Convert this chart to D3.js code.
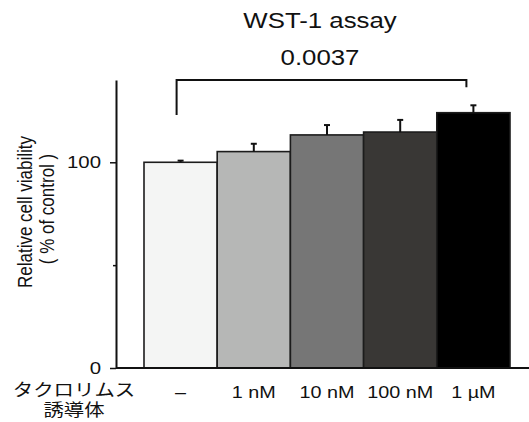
<!DOCTYPE html>
<html>
<head>
<meta charset="utf-8">
<style>
  body { margin: 0; background: #fff; }
  svg { display: block; font-family: "Liberation Sans", Arial, Helvetica, sans-serif; }
</style>
</head>
<body>
<div id="chart"></div>
<script src="https://d3js.org/d3.v7.min.js"></script>
<script>
'use strict';

var categories = ['–', '1 nM', '10 nM', '100 nM', '1 µM'];
var viability = [100, 105.2, 113.3, 114.7, 124.1];
var errors = [0.8, 3.8, 4.8, 5.9, 3.6];
var barColors = ['#f4f5f4', '#b6b7b6', '#767676', '#393735', '#000000'];
var yTickValues = [0, 50, 100];
var yTickLabels = ['0', '', '100'];
var groupLabel = ['タクロリムス', '誘導体'];
var pValue = '0.0037';

var width = 529, height = 422;
var sx = 1.2; // the source picture is stretched horizontally

var svg = d3.select('#chart').append('svg')
  .attr('width', width).attr('height', height);

var x = d3.scaleBand().domain(categories).range([144, 510]).padding(0);
var y = d3.scaleLinear().domain([0, 140]).range([368, 80]);

function label(sel, tx, ty, str, size, anchor, family) {
  return sel.append('text')
    .attr('transform', 'translate(' + tx + ',' + ty + ') scale(' + sx + ',1)')
    .attr('text-anchor', anchor || 'middle')
    .style('font-size', size + 'px')
    .style('font-family', family || null)
    .attr('fill', '#111')
    .text(str);
}

// title and p value
label(svg, 320, 28, 'WST-1 assay', 21.5);
label(svg, 320, 65, pValue, 21.5);

// bars
svg.selectAll('rect.bar').data(viability).enter().append('rect')
  .attr('class', 'bar')
  .attr('x', function(d, i) { return x(categories[i]); })
  .attr('width', x.bandwidth())
  .attr('y', function(d) { return y(d); })
  .attr('height', function(d) { return y(0) - y(d); })
  .attr('fill', function(d, i) { return barColors[i]; })
  .attr('stroke', '#1c1c1c')
  .attr('stroke-width', 1.6);

// error bars
var eb = svg.selectAll('g.err').data(viability).enter().append('g')
  .attr('class', 'err')
  .attr('stroke', '#111').attr('stroke-width', 2);
eb.append('line')
  .attr('x1', function(d, i) { return x(categories[i]) + x.bandwidth() / 2; })
  .attr('x2', function(d, i) { return x(categories[i]) + x.bandwidth() / 2; })
  .attr('y1', function(d) { return y(d); })
  .attr('y2', function(d, i) { return y(d + errors[i]); });
eb.append('line')
  .attr('x1', function(d, i) { return x(categories[i]) + x.bandwidth() / 2 - 3; })
  .attr('x2', function(d, i) { return x(categories[i]) + x.bandwidth() / 2 + 3; })
  .attr('y1', function(d, i) { return y(d + errors[i]); })
  .attr('y2', function(d, i) { return y(d + errors[i]); });

// significance bracket
var bl = x(categories[0]) + x.bandwidth() / 2 - 4;
var br = x(categories[4]) + x.bandwidth() / 2 - 7;
svg.append('path')
  .attr('d', 'M' + bl + ',' + y(123) + 'V' + y(140) + 'H' + br + 'V' + y(136.5))
  .attr('fill', 'none').attr('stroke', '#111').attr('stroke-width', 2);

// y axis
var yAxis = svg.append('g').attr('transform', 'translate(116,0)')
  .call(d3.axisLeft(y).tickValues(yTickValues).tickFormat('').tickSizeOuter(0));
yAxis.select('.domain').attr('stroke', '#111').attr('stroke-width', 2);
yAxis.selectAll('.tick line')
  .attr('stroke', '#111').attr('stroke-width', 1.5)
  .attr('x2', function(d) { return d === 50 ? -3 : -6; });
yTickLabels.forEach(function(t, i) {
  if (t) label(svg, 101, y(yTickValues[i]) + 6, t, 17, 'end');
});

// x axis baseline
svg.append('line')
  .attr('x1', 116).attr('x2', width)
  .attr('y1', y(0)).attr('y2', y(0))
  .attr('stroke', '#111').attr('stroke-width', 2);

// category labels
categories.forEach(function(c) {
  label(svg, x(c) + x.bandwidth() / 2, 398, c, 16.5);
});

// two-line group label, one text element
var gl = label(svg, 74, 396, '', 17, 'middle', '"Noto Sans CJK JP", sans-serif');
gl.selectAll('tspan').data(groupLabel).enter().append('tspan')
  .attr('x', 0).attr('dy', function(d, i) { return i ? 20 : 0; })
  .text(function(d) { return d; });

// y axis title
var yt = svg.append('g').attr('transform', 'scale(' + sx + ',1)');
yt.append('text')
  .attr('transform', 'translate(' + (32 / sx) + ',212) rotate(-90)')
  .attr('text-anchor', 'middle').style('font-size', '17px').attr('fill', '#111')
  .text('Relative cell viability');
yt.append('text')
  .attr('transform', 'translate(' + (54 / sx) + ',209) rotate(-90)')
  .attr('text-anchor', 'middle').style('font-size', '17px').attr('fill', '#111')
  .text('( % of control )');
</script>
</body>
</html>
